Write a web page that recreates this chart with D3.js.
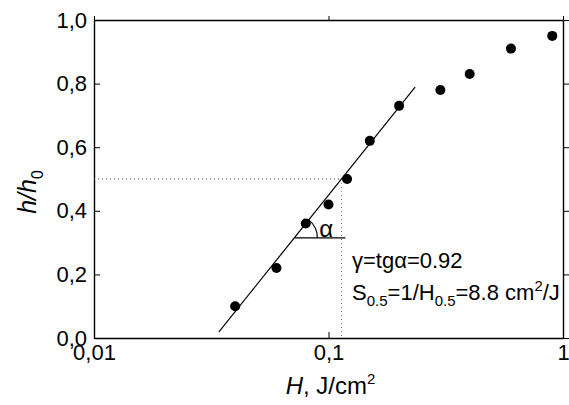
<!DOCTYPE html>
<html>
<head>
<meta charset="utf-8">
<script src="https://cdn.jsdelivr.net/npm/d3@7"></script>
<style>
  body { margin: 0; background: #fff; }
  text { font-family: "Liberation Sans", Arial, sans-serif; fill: #000; }
</style>
</head>
<body>
<div id="container"></div>
<script>
(function(){

  // data
  var fluence = [0.04, 0.06, 0.08, 0.1, 0.12, 0.15, 0.2, 0.3, 0.4, 0.6, 0.9]
  var hRatio  = [0.10, 0.22, 0.36, 0.42, 0.50, 0.62, 0.73, 0.78, 0.83, 0.91, 0.95]
  var xMajor = [0.01, 0.1, 1]
  var xMajorLabels = ["0,01", "0,1", "1"]
  var xMinor = [0.02,0.03,0.04,0.05,0.06,0.07,0.08,0.09,0.2,0.3,0.4,0.5,0.6,0.7,0.8,0.9]
  var yMajor = [0, 0.2, 0.4, 0.6, 0.8, 1.0]
  var yMajorLabels = ["0,0", "0,2", "0,4", "0,6", "0,8", "1,0"]
  var yMinor = [0.1, 0.3, 0.5, 0.7, 0.9]
  // linear fit in log coordinates
  var gamma = 0.92
  var H05 = 0.1136
  var fitRange = [0.0341, 0.234]
  var angleLevel = 0.315
  var angleEnd = 0.118

  var W = 569, H = 405
  var margin = { top: 20, right: 6, bottom: 67, left: 94 }

  var svg = d3.select("#container")
      .append("svg")
        .attr("width", W)
        .attr("height", H)

  var x = d3.scaleLog().domain([0.01, 1]).range([margin.left, W - margin.right])
  var y = d3.scaleLinear().domain([0, 1]).range([H - margin.bottom, margin.top])

  function fitY(Hv){ return 0.5 + gamma * Math.log10(Hv / H05) }

  // AXES
  var bottom = svg.append("g").attr("transform", "translate(0," + y(0) + ")")
  bottom.call(d3.axisBottom(x).tickValues(xMinor).tickSize(-3).tickFormat(""))
  bottom.call(d3.axisBottom(x).tickValues(xMajor).tickSize(-6).tickSizeOuter(0).tickPadding(6)
      .tickFormat(function(d,i){ return xMajorLabels[i] }))

  var left = svg.append("g").attr("transform", "translate(" + x(0.01) + ",0)")
  left.call(d3.axisLeft(y).tickValues(yMinor).tickSize(-3).tickFormat(""))
  left.call(d3.axisLeft(y).tickValues(yMajor).tickSize(-6).tickSizeOuter(0).tickPadding(7)
      .tickFormat(function(d,i){ return yMajorLabels[i] }))

  var top = svg.append("g").attr("transform", "translate(0," + y(1) + ")")
  top.call(d3.axisTop(x).tickValues(xMinor).tickSize(2).tickFormat(""))
  top.call(d3.axisTop(x).tickValues(xMajor).tickSize(4).tickSizeOuter(0).tickFormat(""))

  var right = svg.append("g").attr("transform", "translate(" + x(1) + ",0)")
  right.call(d3.axisRight(y).tickValues(yMinor).tickSize(3).tickFormat(""))
  right.call(d3.axisRight(y).tickValues(yMajor).tickSize(6).tickSizeOuter(0).tickFormat(""))

  svg.selectAll(".domain").attr("stroke", "#000").attr("stroke-width", 1.4)
  svg.selectAll(".tick line").attr("stroke", "#000").attr("stroke-width", 1)
  svg.selectAll(".tick text")
      .style("font-size", "22px")
      .attr("font-family", null)

  // AXIS TITLES
  var xt = svg.append("text")
      .attr("x", (x(0.01) + x(1)) / 2 + 2)
      .attr("y", 394)
      .attr("text-anchor", "middle")
      .style("font-size", "24px")
  xt.append("tspan").style("font-style", "italic").text("H")
  xt.append("tspan").text(", J/cm")
  xt.append("tspan").attr("dy", -10).style("font-size", "15px").text("2")

  var yt = svg.append("text")
      .attr("transform", "translate(36,192) rotate(-90)")
      .attr("text-anchor", "middle")
      .style("font-size", "25px")
  yt.append("tspan").style("font-style", "italic").text("h/h")
  yt.append("tspan").attr("dy", 7).style("font-size", "16px").text("0")

  // DOTTED GUIDES at h/h0 = 0.5
  svg.append("line")
      .attr("x1", x(0.01)).attr("x2", x(H05))
      .attr("y1", y(0.5)).attr("y2", y(0.5))
      .attr("stroke", "#444").attr("stroke-width", 1).attr("stroke-dasharray", "1,3")
  svg.append("line")
      .attr("x1", x(H05)).attr("x2", x(H05))
      .attr("y1", y(0.5)).attr("y2", y(0))
      .attr("stroke", "#888").attr("stroke-width", 1).attr("stroke-dasharray", "1,3")

  // FIT LINE
  svg.append("line")
      .attr("x1", x(fitRange[0])).attr("y1", y(fitY(fitRange[0])))
      .attr("x2", x(fitRange[1])).attr("y2", y(fitY(fitRange[1])))
      .attr("stroke", "#000").attr("stroke-width", 1.2)

  // ANGLE MARK
  var Hstart = H05 * Math.pow(10, (angleLevel - 0.5) / gamma)
  var cx = x(Hstart), cy = y(angleLevel)
  svg.append("line")
      .attr("x1", cx).attr("x2", x(angleEnd))
      .attr("y1", cy).attr("y2", cy)
      .attr("stroke", "#000").attr("stroke-width", 1.2)
  var ang = Math.atan((y(0) - y(gamma)) / (x(1) - x(0.1)))
  var r = 23
  svg.append("path")
      .attr("d", "M" + (cx + r) + "," + cy + " A" + r + "," + r + " 0 0,0 "
            + (cx + r * Math.cos(ang)) + "," + (cy - r * Math.sin(ang)))
      .attr("fill", "none").attr("stroke", "#000").attr("stroke-width", 1.2)
  svg.append("text")
      .attr("x", cx + 25).attr("y", cy - 1)
      .style("font-size", "24px")
      .text("α")

  // POINTS
  svg.selectAll("circle.pt")
      .data(fluence)
      .enter().append("circle")
        .attr("class", "pt")
        .attr("cx", function(d){ return x(d) })
        .attr("cy", function(d,i){ return y(hRatio[i]) })
        .attr("r", 5)
        .attr("fill", "#000")

  // ANNOTATION
  var ann = svg.append("g").attr("transform", "translate(352,268)")
  ann.append("text").style("font-size", "22px").text("γ=tgα=0.92")
  var t2 = ann.append("text").attr("y", 32).style("font-size", "22px")
  t2.append("tspan").text("S")
  t2.append("tspan").attr("dy", 6).style("font-size", "15px").text("0.5")
  t2.append("tspan").attr("dy", -6).text("=1/H")
  t2.append("tspan").attr("dy", 6).style("font-size", "15px").text("0.5")
  t2.append("tspan").attr("dy", -6).text("=8.8 cm")
  t2.append("tspan").attr("dy", -9).style("font-size", "15px").text("2")
  t2.append("tspan").attr("dy", 9).text("/J")

})()
</script>
</body>
</html>
